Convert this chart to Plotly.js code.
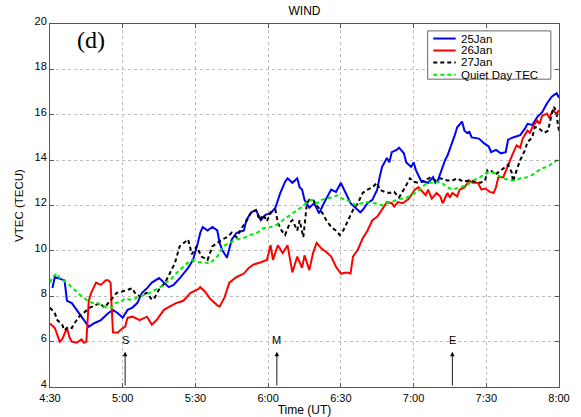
<!DOCTYPE html>
<html><head><meta charset="utf-8">
<script src="https://cdn.plot.ly/plotly-3.0.1.min.js"></script>
<style>html,body{margin:0;padding:0;background:#fff}#plot{width:581px;height:417px}</style>
</head><body><div id="plot"></div>
<script>
// time in minutes after 04:30 UT, VTEC in TECU
const t25 = [1,2,6,7,9,11,14,16,18,21,24,26,28,30,32,34,36,38,40,42,45,47,49,51,54,57,59,61,62,63,65,67,69,70,71,73,74,75,77,80,81,83,85,87,89,91,93,95,97,98,100,102,103,104,105,107,109,111,113,116,118,119,120,122,124,126,128,129,131,133,135,136,137,139,140,141,143,144,146,147,149,150,151,153,156,158,159,160,162,163,164,166,167,168,170,171,172,173,174,177,179,181,182,184,186,188,189,191,194,196,197,199,201,203,205,207,209,210];
const v25 = [8.36,8.85,8.7,7.8,7.7,7.4,6.9,6.65,6.8,6.95,7.25,7.4,7.25,7.05,7.4,7.5,7.7,8.15,8.35,8.6,8.8,8.6,8.4,8.5,8.85,9.25,9.6,10.35,10.8,11.05,10.9,11.05,10.9,10.35,10.05,9.7,10.05,10.5,10.8,10.9,11.35,11.7,11.8,11.35,11.6,11.65,11.9,12.55,13.05,13.2,13.0,13.2,12.8,12.7,12.25,11.9,12.1,11.65,12.1,12.7,12.6,12.8,13.0,12.55,12.1,11.9,11.7,11.8,12.1,12.25,12.7,13.25,13.7,14.1,13.9,14.35,14.45,14.55,14.3,13.9,13.7,13.9,13.55,13.1,13.0,13.25,13.0,13.1,13.7,14.0,14.2,14.75,15.1,15.45,15.7,15.3,15.2,15.25,15.0,14.95,14.75,14.6,14.35,14.45,14.3,14.35,14.9,15.0,15.1,15.4,15.6,15.55,15.9,16.1,16.5,16.8,16.95,16.75];

const t26 = [0,2,4,5,7,8,9,11,13,14,15,16,17,19,21,23,24,25,25.5,26,28,30,31,32,34,37,40,42,44,47,49.5,52,55,58,61,62,64,66,69,70,72,74,77,80,82,84,87,89.5,91,92,94,96,98,99,100,102,104,105,107,108.5,110,112,114,116,118,120,122.5,124,125,127,129,131,133,135,137,139,141,142,143.5,145.5,148,149,150.5,152,155,156,157.5,159.5,161,162,164,165,166,168,169,171,173,174.5,176.5,178,179.5,181.5,183,184,185,187,189,191,192.5,194,195,197,198,199,201,202,203,205,206,207.5,209,210];
const v26 = [6.8,6.6,6.0,6.1,6.6,6.2,6.0,5.95,6.1,5.95,6.0,7.8,8.15,8.6,8.5,8.7,8.7,8.6,7.4,6.4,6.4,6.6,6.65,7.05,7.1,6.95,7.1,6.75,6.95,7.4,7.55,7.7,7.8,8.15,8.3,8.4,8.2,7.9,7.6,7.55,7.95,8.6,8.85,9.0,9.25,9.4,9.5,9.6,10.25,9.6,10.25,9.9,10.25,9.6,9.05,9.75,9.25,9.8,9.15,9.9,10.35,10.1,9.95,9.75,9.3,9.0,9.05,9.0,9.75,10.05,10.55,10.9,11.35,11.5,11.8,12.15,12.1,11.95,12.15,12.1,12.3,12.45,12.7,12.8,12.45,12.7,12.3,12.55,12.4,12.1,12.55,12.35,12.55,12.4,12.7,12.8,13.1,13.0,13.0,12.7,12.75,12.6,12.55,12.8,13.25,13.25,13.8,14.3,14.65,14.55,14.95,15.3,15.2,15.45,15.75,15.6,15.95,16.05,15.85,16.2,16.05,16.2];

const t27 = [0,2,3,5,6,7.5,9,10,12,14.5,16.5,18.5,20.5,22.5,25,27.5,29.5,32,34,35,37,40,42,43,45,47.5,49.5,51.5,53.5,55.5,57,58.5,60.5,62.5,65,67,69,71,73,75,77,79,81,83,85,86.5,88,89.5,91,93,94,95.5,97,99,100,102,103,104.5,106,107,108.5,110.5,112.5,114,116,118.5,119.5,121,123,125,127,129,131,133,135,136,138,140,142,144,146.5,148.5,150,152,154,156,157,159,161,164,166,168,170.5,173,175,177.5,179.5,180.5,182,183.5,185.5,187.5,189,190.5,191,192.5,194,196,197,199,200,201,203,204,205.5,207,208,209,209.5,210];
const v27 = [7.5,7.25,6.95,6.75,6.5,6.65,6.6,6.8,7.1,7.3,7.5,7.6,7.7,7.5,7.85,8.15,8.2,8.3,8.35,8.15,8.0,8.15,7.85,7.9,8.3,8.6,9.0,9.45,10.2,10.35,10.5,9.85,10.2,9.75,9.6,10.2,10.35,10.5,10.6,10.8,10.6,11.0,11.3,11.7,11.8,11.35,11.6,11.3,11.7,11.8,11.25,10.9,10.7,11.25,11.35,10.9,11.35,10.6,12.1,12.25,12.25,11.95,11.65,11.35,11.05,10.85,10.7,10.9,11.35,11.8,12.1,12.55,12.7,12.8,13.0,12.7,12.6,12.55,12.6,12.35,12.8,13.2,13.05,13.0,13.05,13.2,13.25,13.1,13.2,13.1,13.1,13.2,13.05,13.1,13.05,13.0,13.1,13.55,13.55,13.35,13.5,13.65,13.8,13.45,13.05,13.55,14.0,14.45,14.8,15.0,15.45,15.45,15.3,15.2,15.3,16.05,16.35,16.05,15.6,15.3];

const tQ = [0,1,3,4,7,9.5,12.5,15,17.5,19.5,21.5,23.5,25.5,27,29,31,33,35,37,39,41,43.5,45.5,47.5,49.5,51.5,53.5,56.5,58.5,60.5,63,66,69,71.5,74,77,79.5,82.5,85.5,88,91,93.5,96,98,102,104,106,108,110,112,114,116,118.5,120.5,122.5,124.5,126.5,128.5,131,133,135,137,139,141,143,145,147,149,151.5,153.5,155.5,158,161,164,166,169,172,174.5,177.5,180,182,184.5,187,190,192,194,197,199,201,203,205.5,207.5,209.5];
const vQ = [8.6,8.85,9.0,8.8,8.6,8.35,8.05,7.85,7.7,7.7,7.6,7.5,7.5,7.7,7.75,7.9,7.85,7.9,8.0,8.05,8.15,8.3,8.4,8.6,8.7,8.95,9.15,9.45,9.6,9.5,9.5,9.45,9.75,10.2,10.35,10.5,10.55,10.7,10.8,11.0,11.05,11.15,11.35,11.5,11.8,11.95,12.15,12.25,12.1,12.25,12.3,12.35,12.45,12.3,12.25,12.1,12.0,12.1,12.15,12.1,12.1,12.0,12.1,12.15,12.25,12.3,12.35,12.45,12.6,12.8,13.0,13.0,13.05,12.8,12.7,12.8,12.9,13.1,13.25,13.45,13.5,13.35,13.2,13.1,13.1,13.2,13.25,13.35,13.5,13.65,13.7,13.9,14.0];

const seriesNames = ['25Jan','26Jan','27Jan','Quiet Day TEC'];
const tickMin = [270,300,330,360,390,420,450,480];
const tickLabels = ['4:30','5:00','5:30','6:00','6:30','7:00','7:30','8:00'];
// event markers: label, minutes after 04:30 UT
const eventLabels = ['S','M','E'];
const eventTimes = [31,93.6,166];

const toUT = a => a.map(m => 270 + m);
const font = 'Liberation Sans, Arial, sans-serif';
const styles = [
  {color:'#0000ff', width:2},
  {color:'#ff0000', width:2},
  {color:'#000000', width:2, dash:'4px,3px'},
  {color:'#00ee00', width:2, dash:'4px,3px'}
];
const times = [t25, t26, t27, tQ];
const vals = [v25, v26, v27, vQ];

const traces = seriesNames.map((n,i) => ({
  type:'scatter', mode:'lines', x: toUT(times[i]), y: vals[i], name:n, line: styles[i], showlegend:false
}));

const ann = [{
  xref:'paper', yref:'paper', x:0.08, y:0.955, xanchor:'center', yanchor:'middle',
  text:'(d)', showarrow:false, font:{family:'Liberation Serif, Times New Roman, serif', size:24, color:'#000'}
}];
const shapes = [];
eventLabels.forEach((lab,i) => {
  const xx = 270 + eventTimes[i];
  ann.push({x:xx, y:5.55, ax:xx, ay:4, xref:'x', yref:'y', axref:'x', ayref:'y',
    text:'', showarrow:true, arrowhead:2, arrowsize:1, arrowwidth:0.9, arrowcolor:'#000'});
  ann.push({x:xx, y:6.07, xref:'x', yref:'y', text:lab, showarrow:false,
    font:{family:font, size:11, color:'#000'}, xanchor:'center', yanchor:'middle'});
});

// hand-drawn legend box (MATLAB style, compact rows)
const L = {x0:0.742, x1:0.984, y0:0.848, y1:0.981, lx0:0.753, lx1:0.797, tx:0.805};
const rowY = [0.960, 0.927, 0.894, 0.860];
shapes.push({type:'rect', xref:'paper', yref:'paper', x0:L.x0, x1:L.x1, y0:L.y0, y1:L.y1,
  line:{color:'#666', width:1}, fillcolor:'#fff', layer:'above'});
seriesNames.forEach((n,i) => {
  shapes.push({type:'line', xref:'paper', yref:'paper', x0:L.lx0, x1:L.lx1, y0:rowY[i], y1:rowY[i],
    line:{color:styles[i].color, width:2, dash: styles[i].dash || 'solid'}, layer:'above'});
  ann.push({xref:'paper', yref:'paper', x:L.tx, y:rowY[i], xanchor:'left', yanchor:'middle',
    text:n, showarrow:false, borderpad:0, font:{family:font, size:11.5, color:'#000'}});
});

const layout = {
  width:581, height:417,
  margin:{l:50, r:22, t:24, b:30},
  paper_bgcolor:'#fff', plot_bgcolor:'#fff',
  font:{family:font, size:11, color:'#000'},
  title:{text:'WIND', x:0.5, xref:'paper', y:0.985, yanchor:'top', font:{family:font, size:12, color:'#000'}},
  showlegend:false,
  xaxis:{range:[270,480], tickvals:tickMin, ticktext:tickLabels, showgrid:true, gridcolor:'#bbb', griddash:'dot', gridwidth:1,
    showline:true, linecolor:'#555', linewidth:1, mirror:'ticks', ticks:'inside', ticklen:4, tickcolor:'#555',
    zeroline:false, ticklabelstandoff:1, title:{text:'Time (UT)', standoff:1, font:{family:font, size:12}}, tickfont:{size:11}},
  yaxis:{range:[4,20], dtick:2, tick0:4, showgrid:true, gridcolor:'#bbb', griddash:'dot', gridwidth:1,
    showline:true, linecolor:'#555', linewidth:1, mirror:'ticks', ticks:'inside', ticklen:4, tickcolor:'#555',
    zeroline:false, ticklabelshift:-3, title:{text:'VTEC (TECU)', standoff:8, font:{family:font, size:11.5}}, tickfont:{size:11}},
  annotations: ann,
  shapes: shapes
};
Plotly.newPlot('plot', traces, layout, {displayModeBar:false, staticPlot:true});
</script></body></html>
